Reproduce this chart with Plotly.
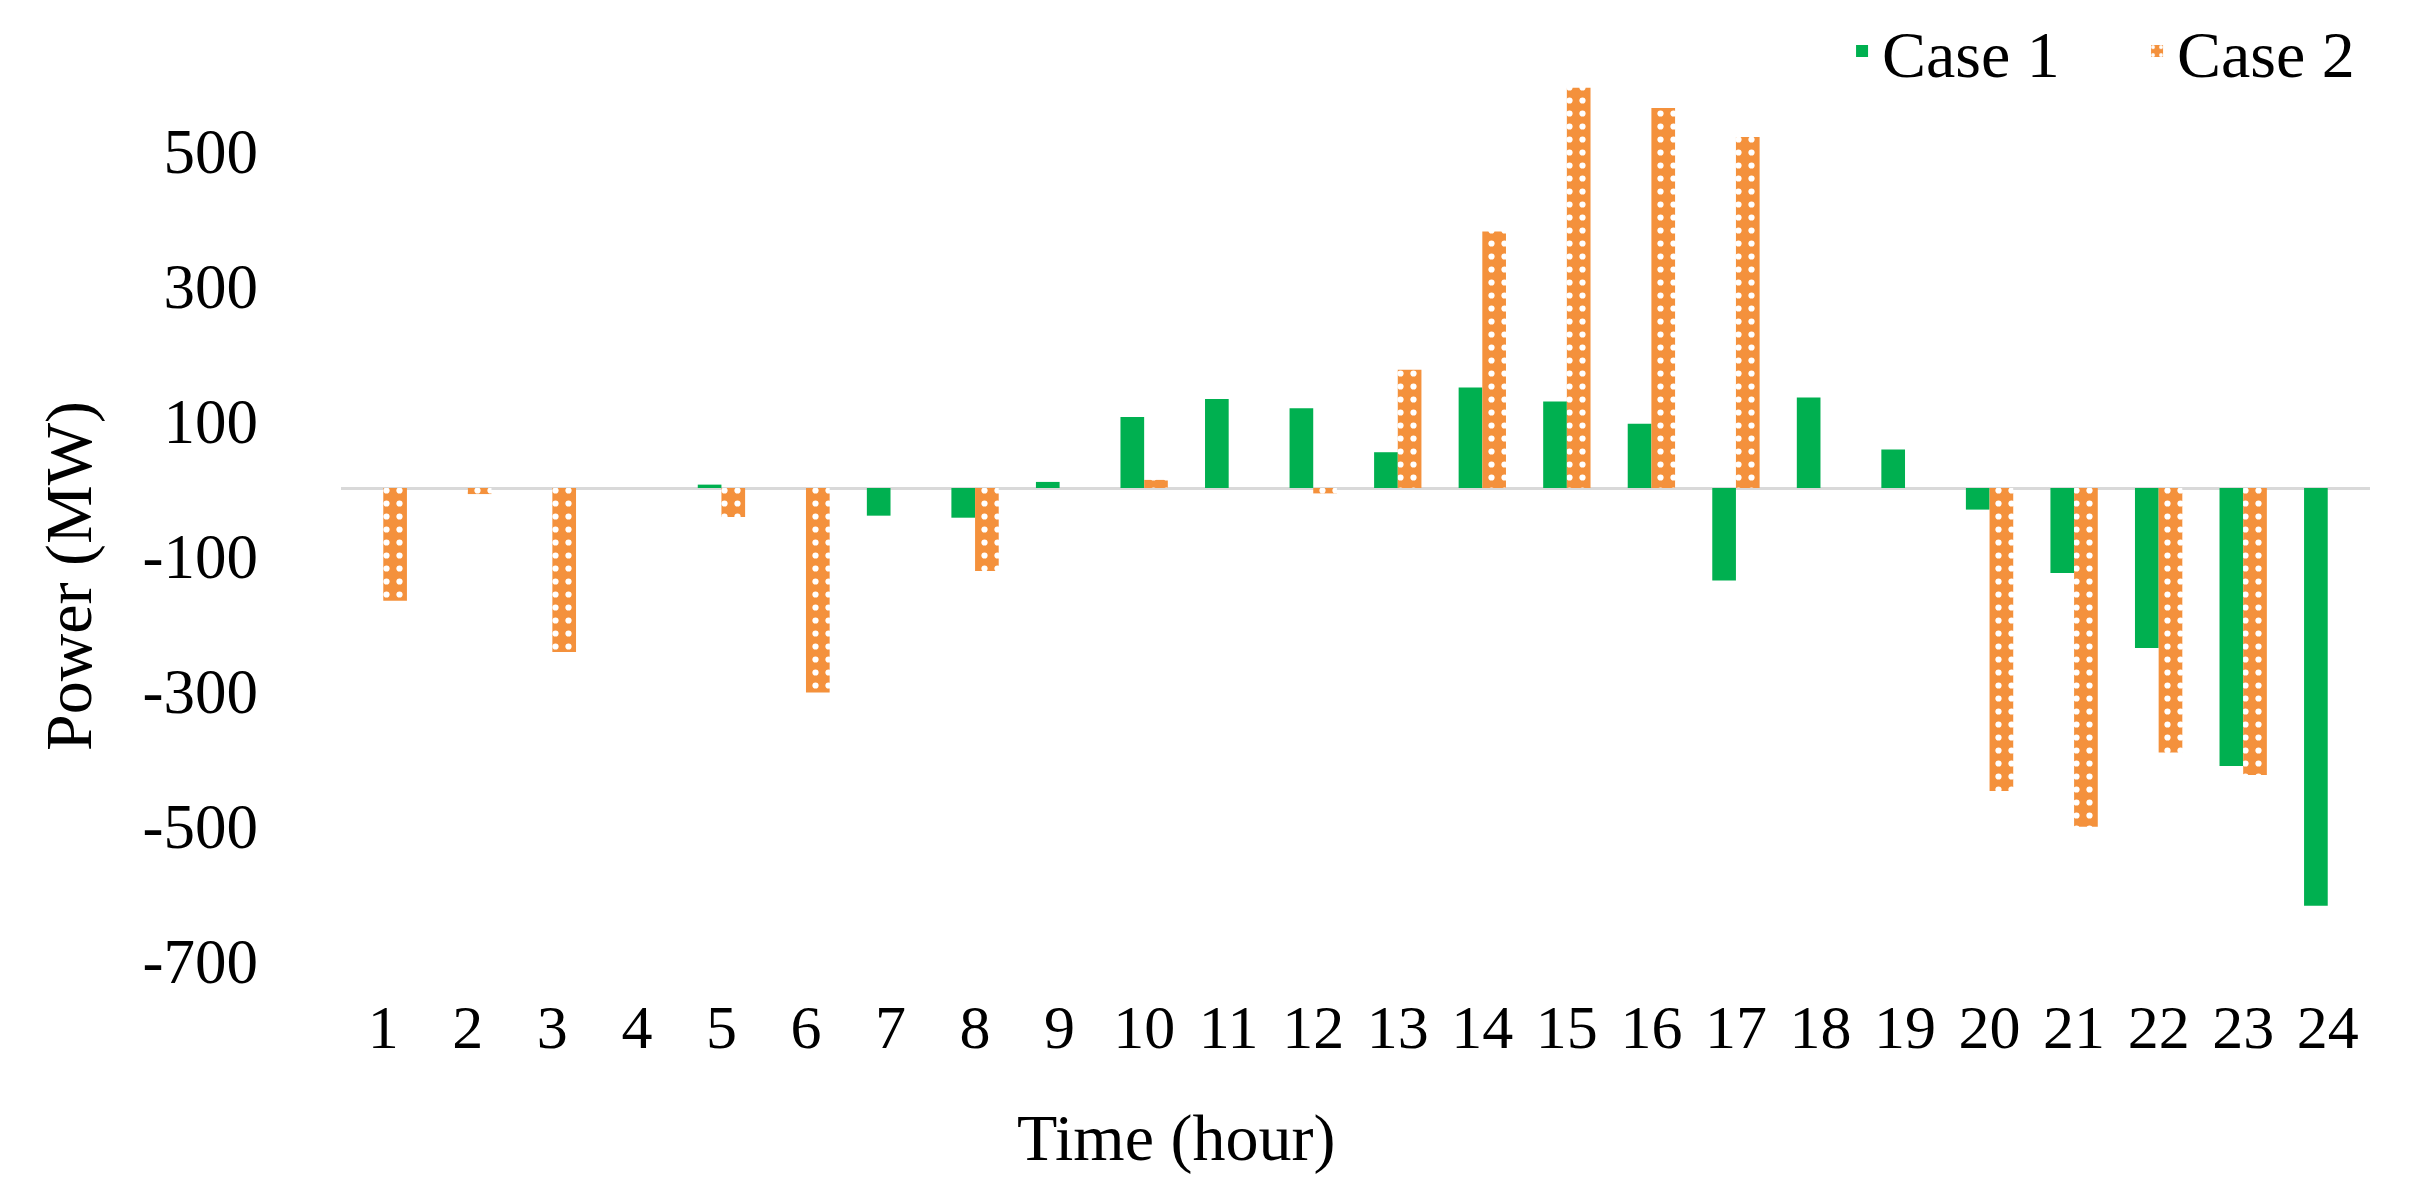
import plotly.graph_objects as go

hours = list(range(1, 25))
tick_labels = [str(h) for h in hours]
case1 = [0, 0, 0, 0, 5, 0, -41, -44, 9, 105, 132, 118, 53, 149, 128, 95, -137, 134, 57, -32, -126, -237, -412, -619]
case2 = [-167, -9, -243, 0, -43, -303, 0, -123, 0, 12, 0, -8, 175, 380, 593, 563, 520, 0, 0, -449, -502, -392, -425, 0]
y_ticks = [-700, -500, -300, -100, 100, 300, 500]

GREEN = "#00B050"
ORANGE = "#F4913C"
FONT = "Liberation Serif"

fig = go.Figure()
fig.add_trace(go.Bar(x=hours, y=case1, name="Case 1", marker=dict(color=GREEN, line=dict(width=0))))
fig.add_trace(go.Bar(
    x=hours, y=case2, name="Case 2",
    marker=dict(color=ORANGE, line=dict(width=0),
                pattern=dict(shape=".", fgcolor="white", bgcolor=ORANGE, size=13,
                             solidity=0.18, fillmode="replace")),
))

W, H = 2410, 1194
L, R, T, B = 333, 48, 60, 202

fig.update_layout(
    width=W, height=H,
    margin=dict(l=L, r=R, t=T, b=B, autoexpand=False),
    paper_bgcolor="white", plot_bgcolor="white",
    barmode="group", bargap=0.44, bargroupgap=0,
    font=dict(family=FONT, size=62, color="black"),
    showlegend=True,
    legend=dict(orientation="h", x=0.7398, xanchor="left", y=1.018, yanchor="middle",
                font=dict(family=FONT, size=66, color="black"),
                bgcolor="rgba(0,0,0,0)", itemwidth=30, entrywidth=250, tracegroupgap=0),
    xaxis=dict(range=[0.5, 24.5], tickmode="array", tickvals=hours, ticktext=tick_labels,
               showgrid=False, zeroline=False, showline=False, ticks="", ticklabelstandoff=-15,
               tickfont=dict(family=FONT, size=62, color="black")),
    yaxis=dict(range=[-758.5, 622.2], tickmode="array", tickvals=y_ticks,
               ticktext=[str(v) for v in y_ticks],
               showgrid=False, zeroline=True, zerolinecolor="#D9D9D9", zerolinewidth=3,
               showline=False, ticks="", ticklabelstandoff=82,
               tickfont=dict(family=FONT, size=63, color="black")),
    annotations=[
        dict(text="Time (hour)", xref="paper", yref="paper", x=0.4116, y=-0.148,
             xanchor="center", yanchor="middle", showarrow=False,
             font=dict(family=FONT, size=66, color="black")),
        dict(text="Power (MW)", xref="paper", yref="paper", x=-0.134, y=0.455,
             xanchor="center", yanchor="middle", showarrow=False, textangle=-90,
             font=dict(family=FONT, size=66, color="black")),
    ],
)

fig.write_html("out.html")
